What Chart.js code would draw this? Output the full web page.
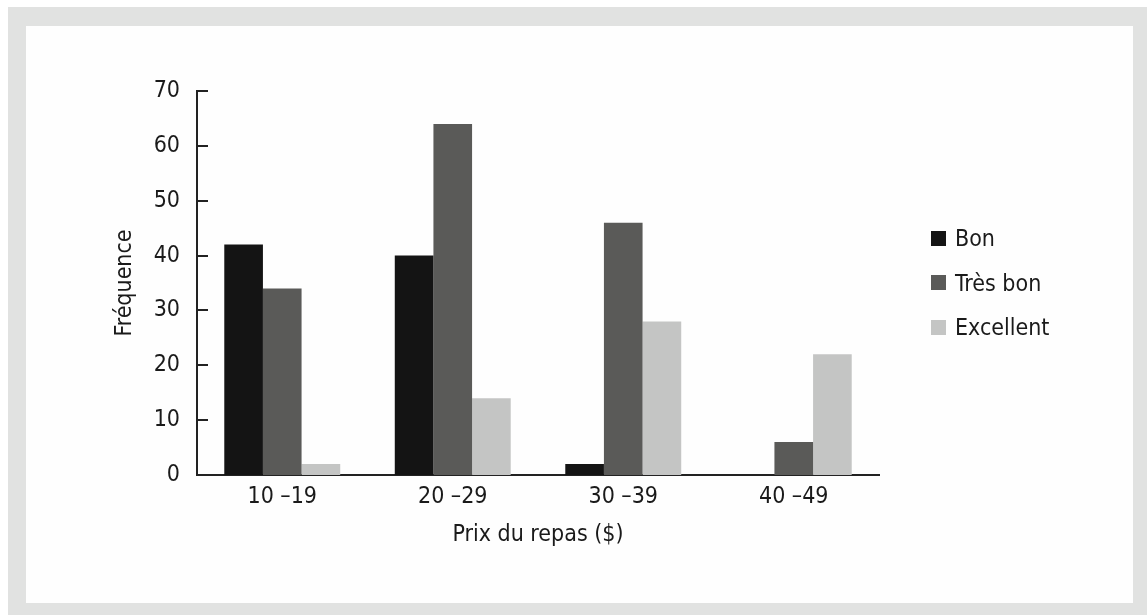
<!DOCTYPE html>
<html lang="fr">
<head>
<meta charset="utf-8">
<script src="https://cdn.jsdelivr.net/npm/chart.js@4"></script>
<style>
  html, body { margin: 0; padding: 0; background: #ffffff; }
  body { width: 1147px; height: 615px; position: relative; overflow: hidden;
         font-family: "Liberation Sans Narrow", "DejaVu Sans Condensed", sans-serif; }
  #frame { position: absolute; left: 8px; top: 7px; width: 1139px; height: 608px; background: #e1e2e1; }
  #panel { position: absolute; left: 26px; top: 26px; width: 1107px; height: 577px; background: #fefefe; }
  #wrap { position: absolute; left: 0; top: 0; width: 1147px; height: 615px; }
  #legend { position: absolute; left: 931px; top: 216px; color: #1a1a1a; font-size: 23px; }
  .item { display: flex; align-items: center; height: 44.5px; }
  .swatch { width: 15px; height: 15px; margin-right: 9px; }
</style>
</head>
<body>
<div id="frame"></div>
<div id="panel"></div>
<div id="wrap"><canvas id="chart" width="1147" height="615"></canvas></div>
<div id="legend"></div>
<script>
// Price ranges (categories) and meal-quality ratings
const categories = ["10 –19", "20 –29", "30 –39", "40 –49"];
const seriesNames = ["Bon", "Très bon", "Excellent"];
const seriesColors = ["#141414", "#5a5a58", "#c4c5c4"];

// Frequencies per rating, one value per price range
const bon = [42, 40, 2, 0];
const tresBon = [34, 64, 46, 6];
const excellent = [2, 14, 28, 22];

const yTicks = [0, 10, 20, 30, 40, 50, 60, 70];

const FONT = '"Liberation Sans Narrow", "DejaVu Sans Condensed", sans-serif';
const INK = '#1a1a1a';

const seriesValues = [bon, tresBon, excellent];
const datasets = seriesNames.map((name, i) => ({
  label: name,
  data: seriesValues[i],
  backgroundColor: seriesColors[i],
  borderWidth: 0,
  categoryPercentage: 0.68,
  barPercentage: 1.0
}));

// Short tick marks drawn inward from the y axis
const inwardTicks = {
  id: 'inwardTicks',
  afterDraw(chart) {
    const y = chart.scales.y;
    const ctx = chart.ctx;
    ctx.save();
    ctx.strokeStyle = '#222';
    ctx.lineWidth = 2;
    y.ticks.forEach((t, i) => {
      if (t.value === 0) return;
      const py = Math.round(y.getPixelForTick(i));
      ctx.beginPath();
      ctx.moveTo(y.right - 1, py);
      ctx.lineTo(y.right + 11, py);
      ctx.stroke();
    });
    ctx.restore();
  }
};

new Chart(document.getElementById('chart'), {
  type: 'bar',
  data: { labels: categories, datasets },
  options: {
    responsive: false,
    animation: false,
    events: [],
    layout: { padding: { left: 0, right: 268, top: 91, bottom: 40 } },
    plugins: { legend: { display: false }, tooltip: { enabled: false } },
    scales: {
      x: {
        grid: { display: false, drawTicks: false },
        border: { display: true, color: '#222', width: 2 },
        ticks: { color: INK, padding: 8, font: { family: FONT, size: 23 } },
        title: { display: true, text: 'Prix du repas ($)', color: INK,
                 font: { family: FONT, size: 23 }, padding: { top: 0, bottom: 26 } },
        afterFit(s) { s.height = 100; }
      },
      y: {
        min: 0, max: 70,
        afterBuildTicks(s) { s.ticks = yTicks.map(v => ({ value: v })); },
        grid: { display: false, drawTicks: false },
        border: { display: true, color: '#222', width: 2 },
        ticks: { color: INK, padding: 17, font: { family: FONT, size: 23 } },
        title: { display: true, text: 'Fréquence', color: INK,
                 font: { family: FONT, size: 23 }, padding: { top: 111, bottom: 0 } },
        afterFit(s) { s.width = 197; }
      }
    }
  },
  plugins: [inwardTicks]
});

// Legend built from the same series names and colours
const legend = document.getElementById('legend');
seriesNames.forEach((name, i) => {
  const row = document.createElement('div');
  row.className = 'item';
  const sw = document.createElement('span');
  sw.className = 'swatch';
  sw.style.background = seriesColors[i];
  const tx = document.createElement('span');
  tx.textContent = name;
  row.appendChild(sw);
  row.appendChild(tx);
  legend.appendChild(row);
});
</script>
</body>
</html>
